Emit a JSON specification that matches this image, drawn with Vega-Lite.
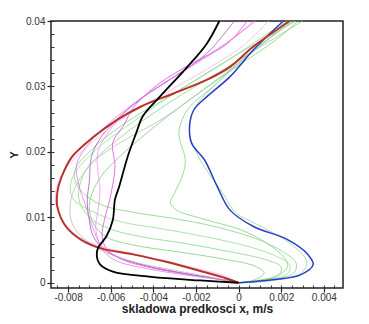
{
  "$schema": "https://vega.github.io/schema/vega-lite/v6.json",
  "width": 292,
  "height": 267,
  "autosize": {"type": "none"},
  "padding": {"left": 51, "top": 21, "right": 26, "bottom": 36},
  "background": "white",
  "config": {"view": {"stroke": "#222222", "strokeWidth": 1.5}, "font": "Liberation Sans"},
  "datasets": {
    "curves": [
      {"s":"black","k":0,"x":0,"y":0},{"s":"black","k":1,"x":-0.0018,"y":0.00035},{"s":"black","k":2,"x":-0.0041,"y":0.0009},{"s":"black","k":3,"x":-0.0059,"y":0.0017},{"s":"black","k":4,"x":-0.0065,"y":0.0028},{"s":"black","k":5,"x":-0.00665,"y":0.004},{"s":"black","k":6,"x":-0.0066,"y":0.0053},{"s":"black","k":7,"x":-0.0062,"y":0.0071},{"s":"black","k":8,"x":-0.0059,"y":0.0096},{"s":"black","k":9,"x":-0.0058,"y":0.0127},{"s":"black","k":10,"x":-0.0056,"y":0.0147},{"s":"black","k":11,"x":-0.0052,"y":0.0193},{"s":"black","k":12,"x":-0.0048,"y":0.0229},{"s":"black","k":13,"x":-0.0045,"y":0.0254},{"s":"black","k":14,"x":-0.0037,"y":0.0284},{"s":"black","k":15,"x":-0.0024,"y":0.033},{"s":"black","k":16,"x":-0.0015,"y":0.0365},{"s":"black","k":17,"x":-0.0009,"y":0.04},
      {"s":"red","k":0,"x":0,"y":0},{"s":"red","k":1,"x":-0.0006,"y":0.0007},{"s":"red","k":2,"x":-0.0018,"y":0.0018},{"s":"red","k":3,"x":-0.0034,"y":0.0032},{"s":"red","k":4,"x":-0.0049,"y":0.0043},{"s":"red","k":5,"x":-0.0065,"y":0.0053},{"s":"red","k":6,"x":-0.0074,"y":0.0066},{"s":"red","k":7,"x":-0.0081,"y":0.0086},{"s":"red","k":8,"x":-0.0085,"y":0.0116},{"s":"red","k":9,"x":-0.0085,"y":0.0139},{"s":"red","k":10,"x":-0.0083,"y":0.0162},{"s":"red","k":11,"x":-0.0078,"y":0.0193},{"s":"red","k":12,"x":-0.0068,"y":0.0223},{"s":"red","k":13,"x":-0.0057,"y":0.0249},{"s":"red","k":14,"x":-0.0046,"y":0.0269},{"s":"red","k":15,"x":-0.003,"y":0.029},{"s":"red","k":16,"x":-0.0015,"y":0.031},{"s":"red","k":17,"x":-0.0004,"y":0.033},{"s":"red","k":18,"x":0.0007,"y":0.0361},{"s":"red","k":19,"x":0.0024,"y":0.04},
      {"s":"blue","k":0,"x":0,"y":0},{"s":"blue","k":1,"x":0.0017,"y":0.0005},{"s":"blue","k":2,"x":0.0029,"y":0.0012},{"s":"blue","k":3,"x":0.0035,"y":0.0028},{"s":"blue","k":4,"x":0.0032,"y":0.0045},{"s":"blue","k":5,"x":0.0023,"y":0.0066},{"s":"blue","k":6,"x":0.0007,"y":0.0086},{"s":"blue","k":7,"x":-0.0004,"y":0.0111},{"s":"blue","k":8,"x":-0.001,"y":0.0147},{"s":"blue","k":9,"x":-0.0016,"y":0.0188},{"s":"blue","k":10,"x":-0.0022,"y":0.0213},{"s":"blue","k":11,"x":-0.0023,"y":0.0239},{"s":"blue","k":12,"x":-0.0021,"y":0.0264},{"s":"blue","k":13,"x":-0.0015,"y":0.0284},{"s":"blue","k":14,"x":-0.0004,"y":0.0315},{"s":"blue","k":15,"x":0.0007,"y":0.0356},{"s":"blue","k":16,"x":0.0021,"y":0.04},
      {"s":"g1","k":0,"x":0,"y":0},{"s":"g1","k":1,"x":0.001,"y":0.0004},{"s":"g1","k":2,"x":0.0018,"y":0.001},{"s":"g1","k":3,"x":0.0023,"y":0.0025},{"s":"g1","k":4,"x":0.0021,"y":0.004},{"s":"g1","k":5,"x":0.0013,"y":0.0061},{"s":"g1","k":6,"x":0.0001,"y":0.0081},{"s":"g1","k":7,"x":-0.0015,"y":0.0096},{"s":"g1","k":8,"x":-0.0029,"y":0.0111},{"s":"g1","k":9,"x":-0.0032,"y":0.0122},{"s":"g1","k":10,"x":-0.003,"y":0.0137},{"s":"g1","k":11,"x":-0.0026,"y":0.0167},{"s":"g1","k":12,"x":-0.0025,"y":0.0188},{"s":"g1","k":13,"x":-0.0028,"y":0.0229},{"s":"g1","k":14,"x":-0.0024,"y":0.0264},{"s":"g1","k":15,"x":-0.0012,"y":0.03},{"s":"g1","k":16,"x":0.0007,"y":0.0356},{"s":"g1","k":17,"x":0.0026,"y":0.04},
      {"s":"g2","k":0,"x":0,"y":0},{"s":"g2","k":1,"x":0.0015,"y":0.0003},{"s":"g2","k":2,"x":0.0029,"y":0.0014},{"s":"g2","k":3,"x":0.0032,"y":0.0032},{"s":"g2","k":4,"x":0.0025,"y":0.0058},{"s":"g2","k":5,"x":0.0007,"y":0.0092},{"s":"g2","k":6,"x":-0.0001,"y":0.0106},{"s":"g2","k":7,"x":-0.0008,"y":0.014},{"s":"g2","k":8,"x":-0.0018,"y":0.0188},{"s":"g2","k":9,"x":-0.0023,"y":0.023},{"s":"g2","k":10,"x":-0.0021,"y":0.0265},{"s":"g2","k":11,"x":-0.0011,"y":0.0302},{"s":"g2","k":12,"x":0.0008,"y":0.0356},{"s":"g2","k":13,"x":0.0024,"y":0.04},
      {"s":"g3","k":0,"x":0,"y":0},{"s":"g3","k":1,"x":0.0014,"y":0.0004},{"s":"g3","k":2,"x":0.0026,"y":0.0015},{"s":"g3","k":3,"x":0.0027,"y":0.003},{"s":"g3","k":4,"x":0.0022,"y":0.0045},{"s":"g3","k":5,"x":0.001,"y":0.0065},{"s":"g3","k":6,"x":-0.001,"y":0.0085},{"s":"g3","k":7,"x":-0.003,"y":0.0098},{"s":"g3","k":8,"x":-0.005,"y":0.0108},{"s":"g3","k":9,"x":-0.0065,"y":0.012},{"s":"g3","k":10,"x":-0.0075,"y":0.0145},{"s":"g3","k":11,"x":-0.0077,"y":0.017},{"s":"g3","k":12,"x":-0.007,"y":0.02},{"s":"g3","k":13,"x":-0.0055,"y":0.024},{"s":"g3","k":14,"x":-0.003,"y":0.029},{"s":"g3","k":15,"x":-0.0005,"y":0.034},{"s":"g3","k":16,"x":0.0018,"y":0.039},{"s":"g3","k":17,"x":0.0023,"y":0.04},
      {"s":"g4","k":0,"x":0,"y":0},{"s":"g4","k":1,"x":0.0012,"y":0.0004},{"s":"g4","k":2,"x":0.0023,"y":0.0014},{"s":"g4","k":3,"x":0.0024,"y":0.0027},{"s":"g4","k":4,"x":0.0018,"y":0.004},{"s":"g4","k":5,"x":0.0005,"y":0.0055},{"s":"g4","k":6,"x":-0.0015,"y":0.007},{"s":"g4","k":7,"x":-0.0035,"y":0.0082},{"s":"g4","k":8,"x":-0.0055,"y":0.0093},{"s":"g4","k":9,"x":-0.0068,"y":0.0108},{"s":"g4","k":10,"x":-0.0078,"y":0.013},{"s":"g4","k":11,"x":-0.0078,"y":0.016},{"s":"g4","k":12,"x":-0.0068,"y":0.02},{"s":"g4","k":13,"x":-0.005,"y":0.0245},{"s":"g4","k":14,"x":-0.0025,"y":0.03},{"s":"g4","k":15,"x":0,"y":0.035},{"s":"g4","k":16,"x":0.0027,"y":0.04},
      {"s":"g5","k":0,"x":0,"y":0},{"s":"g5","k":1,"x":0.001,"y":0.0004},{"s":"g5","k":2,"x":0.0019,"y":0.0013},{"s":"g5","k":3,"x":0.002,"y":0.0024},{"s":"g5","k":4,"x":0.0013,"y":0.0035},{"s":"g5","k":5,"x":-0.0005,"y":0.0048},{"s":"g5","k":6,"x":-0.0025,"y":0.006},{"s":"g5","k":7,"x":-0.0045,"y":0.007},{"s":"g5","k":8,"x":-0.006,"y":0.0082},{"s":"g5","k":9,"x":-0.007,"y":0.01},{"s":"g5","k":10,"x":-0.0075,"y":0.013},{"s":"g5","k":11,"x":-0.0072,"y":0.017},{"s":"g5","k":12,"x":-0.006,"y":0.021},{"s":"g5","k":13,"x":-0.0035,"y":0.027},{"s":"g5","k":14,"x":-0.001,"y":0.032},{"s":"g5","k":15,"x":0.002,"y":0.038},{"s":"g5","k":16,"x":0.003,"y":0.04},
      {"s":"g6","k":0,"x":0,"y":0},{"s":"g6","k":1,"x":0.0008,"y":0.0005},{"s":"g6","k":2,"x":0.0012,"y":0.0015},{"s":"g6","k":3,"x":0.0008,"y":0.0025},{"s":"g6","k":4,"x":-0.001,"y":0.0038},{"s":"g6","k":5,"x":-0.003,"y":0.0048},{"s":"g6","k":6,"x":-0.005,"y":0.0058},{"s":"g6","k":7,"x":-0.0062,"y":0.007},{"s":"g6","k":8,"x":-0.0068,"y":0.009},{"s":"g6","k":9,"x":-0.007,"y":0.012},{"s":"g6","k":10,"x":-0.0065,"y":0.016},{"s":"g6","k":11,"x":-0.0055,"y":0.0195},{"s":"g6","k":12,"x":-0.0035,"y":0.025},{"s":"g6","k":13,"x":-0.001,"y":0.031},{"s":"g6","k":14,"x":0.0017,"y":0.037},{"s":"g6","k":15,"x":0.0028,"y":0.04},
      {"s":"m1","k":0,"x":0,"y":0},{"s":"m1","k":1,"x":-0.0008,"y":0.0005},{"s":"m1","k":2,"x":-0.0024,"y":0.0013},{"s":"m1","k":3,"x":-0.0041,"y":0.0023},{"s":"m1","k":4,"x":-0.0055,"y":0.0036},{"s":"m1","k":5,"x":-0.0062,"y":0.0052},{"s":"m1","k":6,"x":-0.0064,"y":0.0072},{"s":"m1","k":7,"x":-0.0063,"y":0.0095},{"s":"m1","k":8,"x":-0.0061,"y":0.012},{"s":"m1","k":9,"x":-0.0059,"y":0.015},{"s":"m1","k":10,"x":-0.0058,"y":0.018},{"s":"m1","k":11,"x":-0.0059,"y":0.0214},{"s":"m1","k":12,"x":-0.0054,"y":0.024},{"s":"m1","k":13,"x":-0.0049,"y":0.0269},{"s":"m1","k":14,"x":-0.0037,"y":0.0305},{"s":"m1","k":15,"x":-0.0022,"y":0.0335},{"s":"m1","k":16,"x":-0.0005,"y":0.0366},{"s":"m1","k":17,"x":0.0004,"y":0.04},
      {"s":"m2","k":0,"x":0,"y":0},{"s":"m2","k":1,"x":-0.001,"y":0.0006},{"s":"m2","k":2,"x":-0.0027,"y":0.0015},{"s":"m2","k":3,"x":-0.0045,"y":0.0027},{"s":"m2","k":4,"x":-0.0058,"y":0.0042},{"s":"m2","k":5,"x":-0.0065,"y":0.006},{"s":"m2","k":6,"x":-0.0067,"y":0.0085},{"s":"m2","k":7,"x":-0.0066,"y":0.011},{"s":"m2","k":8,"x":-0.0065,"y":0.014},{"s":"m2","k":9,"x":-0.0066,"y":0.017},{"s":"m2","k":10,"x":-0.0066,"y":0.02},{"s":"m2","k":11,"x":-0.006,"y":0.0235},{"s":"m2","k":12,"x":-0.0052,"y":0.0265},{"s":"m2","k":13,"x":-0.004,"y":0.0295},{"s":"m2","k":14,"x":-0.0025,"y":0.0325},{"s":"m2","k":15,"x":-0.0008,"y":0.036},{"s":"m2","k":16,"x":0.0007,"y":0.04},
      {"s":"m3","k":0,"x":0,"y":0},{"s":"m3","k":1,"x":-0.0012,"y":0.0007},{"s":"m3","k":2,"x":-0.003,"y":0.0017},{"s":"m3","k":3,"x":-0.0048,"y":0.003},{"s":"m3","k":4,"x":-0.0062,"y":0.0048},{"s":"m3","k":5,"x":-0.0068,"y":0.007},{"s":"m3","k":6,"x":-0.007,"y":0.0095},{"s":"m3","k":7,"x":-0.0071,"y":0.0125},{"s":"m3","k":8,"x":-0.007,"y":0.0155},{"s":"m3","k":9,"x":-0.0069,"y":0.0193},{"s":"m3","k":10,"x":-0.0065,"y":0.022},{"s":"m3","k":11,"x":-0.0057,"y":0.025},{"s":"m3","k":12,"x":-0.0045,"y":0.0283},{"s":"m3","k":13,"x":-0.003,"y":0.0315},{"s":"m3","k":14,"x":-0.0015,"y":0.035},{"s":"m3","k":15,"x":-0.0002,"y":0.04},
      {"s":"m4","k":0,"x":0,"y":0},{"s":"m4","k":1,"x":-0.0007,"y":0.0011},{"s":"m4","k":2,"x":-0.002,"y":0.0022},{"s":"m4","k":3,"x":-0.0036,"y":0.0035},{"s":"m4","k":4,"x":-0.0052,"y":0.0046},{"s":"m4","k":5,"x":-0.0067,"y":0.0058},{"s":"m4","k":6,"x":-0.0077,"y":0.0075},{"s":"m4","k":7,"x":-0.0083,"y":0.0098},{"s":"m4","k":8,"x":-0.0086,"y":0.0125},{"s":"m4","k":9,"x":-0.0085,"y":0.015},{"s":"m4","k":10,"x":-0.0081,"y":0.0175},{"s":"m4","k":11,"x":-0.0072,"y":0.0205},{"s":"m4","k":12,"x":-0.006,"y":0.0238},{"s":"m4","k":13,"x":-0.0045,"y":0.027},{"s":"m4","k":14,"x":-0.003,"y":0.0298},{"s":"m4","k":15,"x":-0.0014,"y":0.0328},{"s":"m4","k":16,"x":0.0002,"y":0.0362},{"s":"m4","k":17,"x":0.0014,"y":0.04},
      {"s":"m5","k":0,"x":0,"y":0},{"s":"m5","k":1,"x":-0.0009,"y":0.0005},{"s":"m5","k":2,"x":-0.0025,"y":0.0012},{"s":"m5","k":3,"x":-0.0042,"y":0.0021},{"s":"m5","k":4,"x":-0.0057,"y":0.0033},{"s":"m5","k":5,"x":-0.0063,"y":0.0047},{"s":"m5","k":6,"x":-0.0066,"y":0.0065},{"s":"m5","k":7,"x":-0.0069,"y":0.009},{"s":"m5","k":8,"x":-0.0072,"y":0.012},{"s":"m5","k":9,"x":-0.0075,"y":0.015},{"s":"m5","k":10,"x":-0.0076,"y":0.018},{"s":"m5","k":11,"x":-0.0071,"y":0.021},{"s":"m5","k":12,"x":-0.0062,"y":0.024},{"s":"m5","k":13,"x":-0.005,"y":0.0272},{"s":"m5","k":14,"x":-0.0035,"y":0.0305},{"s":"m5","k":15,"x":-0.0018,"y":0.034},{"s":"m5","k":16,"x":-0.0002,"y":0.0375},{"s":"m5","k":17,"x":0.0008,"y":0.04},
      {"s":"gray","k":0,"x":0,"y":0},{"s":"gray","k":1,"x":-0.0012,"y":0.0008},{"s":"gray","k":2,"x":-0.003,"y":0.0019},{"s":"gray","k":3,"x":-0.0048,"y":0.0031},{"s":"gray","k":4,"x":-0.0062,"y":0.0046},{"s":"gray","k":5,"x":-0.0072,"y":0.0066},{"s":"gray","k":6,"x":-0.0078,"y":0.009},{"s":"gray","k":7,"x":-0.0079,"y":0.012},{"s":"gray","k":8,"x":-0.0076,"y":0.015},{"s":"gray","k":9,"x":-0.0068,"y":0.0185},{"s":"gray","k":10,"x":-0.0055,"y":0.0215},{"s":"gray","k":11,"x":-0.0034,"y":0.0254},{"s":"gray","k":12,"x":-0.00085,"y":0.0315},{"s":"gray","k":13,"x":0.0025,"y":0.04}
    ]
  },
  "data": {"name": "curves"},
  "encoding": {
    "x": {"field": "x", "type": "quantitative", "scale": {"domain": [-0.0088, 0.0049], "nice": false, "zero": false}, "axis": null},
    "y": {"field": "y", "type": "quantitative", "scale": {"domain": [-0.0008, 0.04], "nice": false, "zero": false}, "axis": null},
    "order": {"field": "k", "type": "quantitative"},
    "detail": {"field": "s", "type": "nominal"}
  },
  "layer": [
    {
      "mark": {"type": "line", "opacity": 0},
      "encoding": {
        "x": {"field": "x", "type": "quantitative", "scale": {"domain": [-0.0088, 0.0049], "nice": false, "zero": false},
          "axis": {"orient": "bottom", "values": [-0.0085,-0.008,-0.0075,-0.007,-0.0065,-0.006,-0.0055,-0.005,-0.0045,-0.004,-0.0035,-0.003,-0.0025,-0.002,-0.0015,-0.001,-0.0005,0,0.0005,0.001,0.0015,0.002,0.0025,0.003,0.0035,0.004,0.0045],
            "labels": false, "domain": false, "grid": false, "title": null, "tickSize": -3, "tickColor": "#333333", "tickWidth": 1}},
        "y": {"field": "y", "type": "quantitative", "scale": {"domain": [-0.0008, 0.04], "nice": false, "zero": false},
          "axis": {"orient": "left", "values": [0,0.002,0.004,0.006,0.008,0.01,0.012,0.014,0.016,0.018,0.02,0.022,0.024,0.026,0.028,0.03,0.032,0.034,0.036,0.038,0.04],
            "labels": false, "domain": false, "grid": false, "title": null, "tickSize": -3, "tickColor": "#333333", "tickWidth": 1}}
      }
    },
    {
      "transform": [{"filter": {"field": "s", "oneOf": ["g1","g2","g3","g4","g5","g6","m1","m2","m3","m4","m5","gray"]}}],
      "mark": {"type": "line", "strokeWidth": 0.9, "opacity": 0.85, "interpolate": "catmull-rom"},
      "encoding": {
        "x": {"field": "x", "type": "quantitative", "scale": {"domain": [-0.0088, 0.0049], "nice": false, "zero": false},
          "axis": {"orient": "bottom", "values": [-0.008,-0.006,-0.004,-0.002,0,0.002,0.004], "labelExpr": "'' + datum.value",
            "domain": false, "grid": false, "tickSize": 4, "tickColor": "#222222", "tickWidth": 1.2, "labelFontSize": 10, "labelColor": "#333333", "labelPadding": 0,
            "title": "skladowa predkosci x, m/s", "titleFontSize": 12, "titleFontWeight": "bold", "titleColor": "#222222", "titlePadding": 1}},
        "y": {"field": "y", "type": "quantitative", "scale": {"domain": [-0.0008, 0.04], "nice": false, "zero": false},
          "axis": {"orient": "left", "values": [0,0.01,0.02,0.03,0.04], "labelExpr": "'' + datum.value",
            "domain": false, "grid": false, "tickSize": 4, "tickColor": "#222222", "tickWidth": 1.2, "labelFontSize": 10, "labelColor": "#333333", "labelPadding": 2,
            "title": "Y", "titleFontSize": 11, "titleFontWeight": "bold", "titleColor": "#222222", "titlePadding": 6}},
        "color": {"field": "s", "type": "nominal", "legend": null,
          "scale": {"domain": ["g1","g2","g3","g4","g5","g6","m1","m2","m3","m4","m5","gray"],
            "range": ["#7ccf7c","#8ad88a","#7ed27e","#90dc90","#84d484","#78cc78","#e040e0","#f08ef0","#a050b8","#f5b0f0","#ea70ea","#b8b8b8"]}}
      }
    },
    {
      "transform": [{"filter": {"field": "s", "equal": "blue"}}],
      "mark": {"type": "line", "strokeWidth": 1.5, "color": "#2a3cc8", "interpolate": "catmull-rom"}
    },
    {
      "transform": [{"filter": {"field": "s", "equal": "red"}}],
      "mark": {"type": "line", "strokeWidth": 2, "color": "#b8322a", "interpolate": "catmull-rom"}
    },
    {
      "transform": [{"filter": {"field": "s", "equal": "black"}}],
      "mark": {"type": "line", "strokeWidth": 1.8, "color": "#000000", "interpolate": "catmull-rom"}
    }
  ],
  "resolve": {"axis": {"x": "independent", "y": "independent"}}
}
